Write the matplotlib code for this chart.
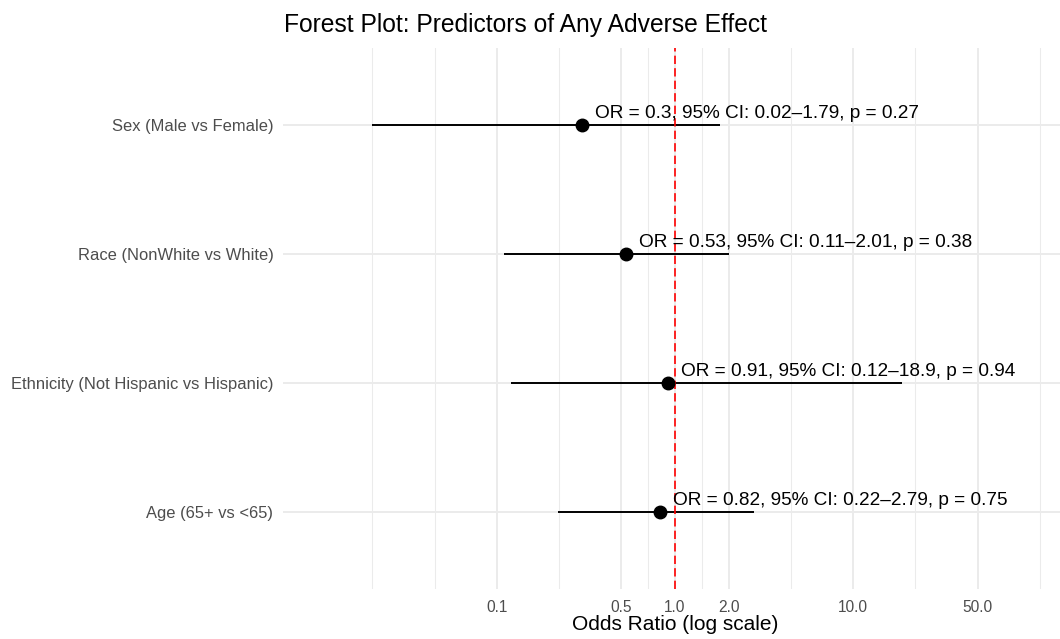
import numpy as np
import matplotlib
matplotlib.use('Agg')
import matplotlib.pyplot as plt

# data (top row first)
predictors = ['Sex (Male vs Female)', 'Race (NonWhite vs White)',
              'Ethnicity (Not Hispanic vs Hispanic)', 'Age (65+ vs <65)']
odds_ratio = [0.3, 0.53, 0.91, 0.82]
ci_low = [0.02, 0.11, 0.12, 0.22]
ci_high = [1.79, 2.01, 18.9, 2.79]
p_values = [0.27, 0.38, 0.94, 0.75]
x_breaks = [0.1, 0.5, 1.0, 2.0, 10.0, 50.0]
x_labels = ['0.1', '0.5', '1.0', '2.0', '10.0', '50.0']

plt.rcParams['font.family'] = ['Liberation Sans', 'DejaVu Sans']

fig = plt.figure(figsize=(10.6, 6.39), dpi=100)
W, H = 1060, 639
left, right, top, bottom = 283, 1067, 47.6, 589
ax = fig.add_axes([left / W, 1 - bottom / H, (right - left) / W, (bottom - top) / H])

n = len(predictors)
ypos = np.arange(n, 0, -1)

ax.set_xscale('log')
ax.set_xlim(10 ** -2.2, 10 ** 2.2)
ax.set_ylim(0.4, n + 0.6)

# ggplot-style minor breaks: midpoints in log space, breaks extended once at each end
lb = np.log10(x_breaks)
bd = lb[1] - lb[0]
ext = np.concatenate([[lb[0] - bd], lb, [lb[-1] + bd]])
minor = []
for a, b in zip(ext[:-1], ext[1:]):
    minor += [a, (a + b) / 2]
minor.append(ext[-1])
minor = [10 ** m for m in minor if not np.any(np.isclose(m, lb))]

grid_col = '#EBEBEB'
for m in minor:
    ax.axvline(m, color=grid_col, lw=0.75, zorder=0)
for b in x_breaks:
    ax.axvline(b, color=grid_col, lw=1.4, zorder=0)
for y in ypos:
    ax.axhline(y, color=grid_col, lw=1.4, zorder=0)

ax.axvline(1.0, color='red', lw=1.2, linestyle=(0, (5, 2.5)), zorder=3)

ax.hlines(ypos, ci_low, ci_high, color='black', lw=1.4, zorder=2)
ax.plot(odds_ratio, ypos, 'o', color='black', markersize=9, zorder=4)

for orv, lo, hi, p, y in zip(odds_ratio, ci_low, ci_high, p_values, ypos):
    txt = f'OR = {orv:g}, 95% CI: {lo:g}\u2013{hi:g}, p = {p:g}'
    ax.annotate(txt, (orv, y), xytext=(9.5, 5), textcoords='offset points',
                ha='left', va='baseline', fontsize=13.7, color='black', zorder=5)

ax.set_xticks(x_breaks)
ax.set_xticklabels(x_labels)
ax.xaxis.set_minor_locator(matplotlib.ticker.NullLocator())
ax.set_yticks(ypos)
ax.set_yticklabels(predictors)
ax.tick_params(axis='x', length=0, pad=8, labelsize=11.2, labelcolor='#4D4D4D')
ax.tick_params(axis='y', length=0, pad=7, labelsize=11.9, labelcolor='#4D4D4D')
for s in ax.spines.values():
    s.set_visible(False)

fig.text(675 / W, 1 - 630 / H, 'Odds Ratio (log scale)', ha='center', va='baseline',
         fontsize=15, color='black')
fig.text(284 / W, 1 - 32 / H, 'Forest Plot: Predictors of Any Adverse Effect',
         ha='left', va='baseline', fontsize=17.7, color='black')

fig.savefig('out.png', dpi=100)
